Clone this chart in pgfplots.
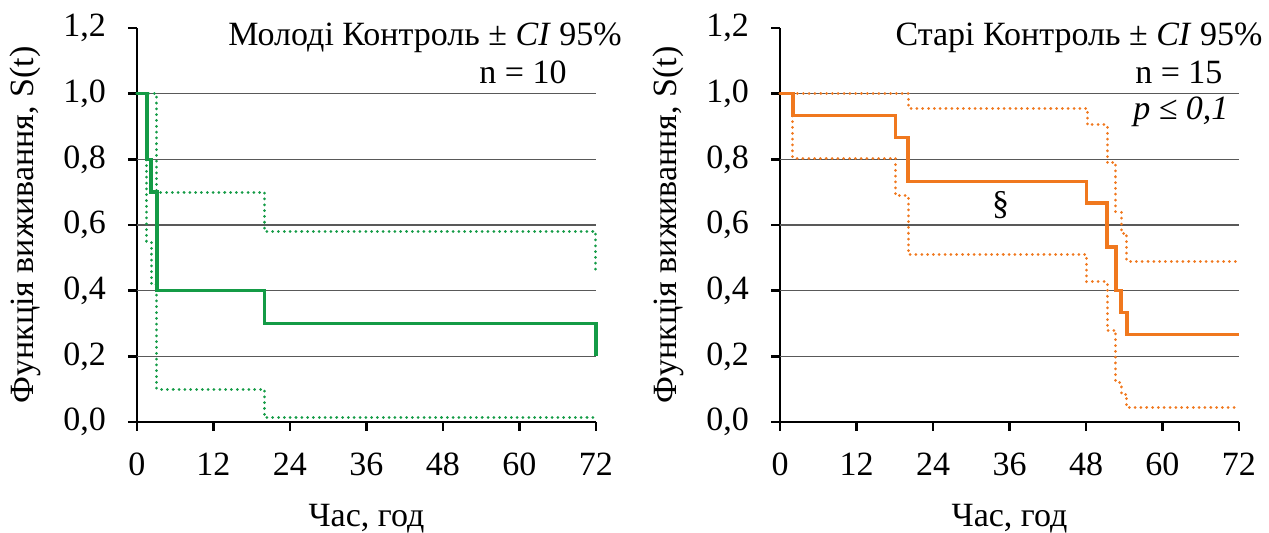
\documentclass[border=0pt]{standalone}
\usepackage{fontspec}
\setmainfont{Liberation Serif}
\usepackage{pgfplots}
\pgfplotsset{compat=1.18}

\definecolor{kmgreen}{RGB}{20,155,70}
\definecolor{kmorange}{RGB}{240,120,30}
\newcommand{\fs}{\fontsize{17}{20}\selectfont}

\pgfplotsset{
  km/.style={
    scale only axis, width=229.5pt, height=197pt,
    xmin=0, xmax=72, ymin=0, ymax=1.2,
    clip=false,
    axis x line*=bottom, axis y line*=left,
    axis line style={-, line width=1.3pt, black},
    xtick={0,12,24,36,48,60,72},
    ytick={0,0.2,0.4,0.6,0.8,1.0,1.2},
    extra y ticks={0.2,0.4,0.6,0.8,1.0},
    extra y tick labels={},
    extra y tick style={grid=major, major tick length=0pt},
    grid style={line width=0.75pt, black!65},
    tick align=outside, major tick length=4.5pt,
    tick style={line width=1.3pt, black},
    /pgf/number format/assume math mode=true,
    yticklabel style={xshift=-7.5pt, /pgf/number format/.cd, fixed, fixed zerofill, precision=1, use comma},
    xticklabel style={yshift=-7.5pt},
    ticklabel style={font=\fs},
    label style={font=\fs},
    xlabel={Час, год},
    ylabel={Функція виживання, S(t)},
    xlabel style={at={(axis description cs:0.5,-0.246)}, anchor=center},
    ylabel style={at={(axis description cs:-0.244,0.5)}, anchor=center},
  },
  est/.style={const plot, line width=1.8pt},
  ci/.style={const plot, line width=1.5pt, line cap=round, dash pattern=on 0.01pt off 2.9pt},
}

% Kaplan-Meier estimates and 95% CI bounds
\pgfplotstableread{
t   s
0   1
1.6 0.8
2.2 0.7
3.1 0.4
20  0.3
72  0.2
}\youngS
\pgfplotstableread{
t   s
0   1
3.1 0.7
20  0.58
72  0.46
}\youngU
\pgfplotstableread{
t   s
0   1
1.5 0.55
2.2 0.42
3.1 0.1
20  0.013
72  0.013
}\youngL
\pgfplotstableread{
t    s
0    1
2    0.933
18.1 0.867
20.1 0.733
48.1 0.667
51.3 0.533
52.7 0.4
53.5 0.333
54.4 0.267
72   0.267
}\oldS
\pgfplotstableread{
t    s
0    1
20.1 0.956
48.2 0.905
51.3 0.79
52.7 0.64
53.5 0.575
54.4 0.49
72   0.49
}\oldU
\pgfplotstableread{
t    s
0    1
2    0.804
18.1 0.69
20.1 0.51
48.1 0.427
51.3 0.28
52.7 0.12
53.5 0.085
54.4 0.043
72   0.043
}\oldL

\begin{document}
\begin{tikzpicture}
\begin{axis}[km, at={(0pt,0pt)}, anchor=south west]
  \addplot[ci, kmgreen] table[x=t, y=s] {\youngU};
  \addplot[ci, kmgreen] table[x=t, y=s] {\youngL};
  \addplot[est, kmgreen] table[x=t, y=s] {\youngS};
  \node[anchor=east, font=\fs, inner sep=0pt] at (axis description cs:1.057,0.975)
    {Молоді Контроль ± \textit{CI} 95\%};
  \node[anchor=east, font=\fs, inner sep=0pt] at (axis description cs:0.937,0.888) {n = 10};
\end{axis}
\begin{axis}[km, at={(321.5pt,0pt)}, anchor=south west]
  \addplot[ci, kmorange] table[x=t, y=s] {\oldU};
  \addplot[ci, kmorange] table[x=t, y=s] {\oldL};
  \addplot[est, kmorange] table[x=t, y=s] {\oldS};
  \node[font=\fs] at (axis cs:34.6,0.66) {§};
  \node[anchor=east, font=\fs, inner sep=0pt] at (axis description cs:1.052,0.975)
    {Старі Контроль ± \textit{CI} 95\%};
  \node[anchor=east, font=\fs, inner sep=0pt] at (axis description cs:0.965,0.888) {n = 15};
  \node[anchor=east, font=\fs, inner sep=0pt] at (axis description cs:0.978,0.787) {\textit{p ≤ 0,1}};
\end{axis}
\pgfresetboundingbox
\path[use as bounding box] (-68.5pt,-55.5pt) rectangle (566pt,211pt);
\end{tikzpicture}
\end{document}
